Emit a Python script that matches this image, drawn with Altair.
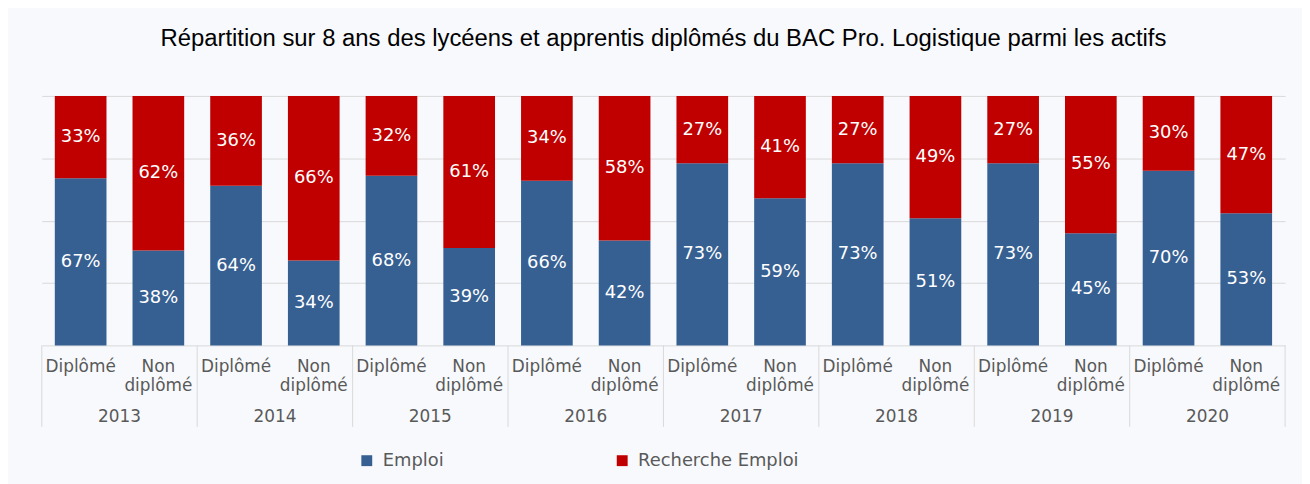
import altair as alt
import pandas as pd

years = ["2013", "2014", "2015", "2016", "2017", "2018", "2019", "2020"]
categories = ["Diplômé", "Non diplômé"]
series = ["Emploi", "Recherche Emploi"]
colors = ["#376092", "#c00000"]

emploi_diplome = [67, 64, 68, 66, 73, 73, 73, 70]
emploi_non_diplome = [38, 34, 39, 42, 59, 51, 45, 53]
recherche_diplome = [33, 36, 32, 34, 27, 27, 27, 30]
recherche_non_diplome = [62, 66, 61, 58, 41, 49, 55, 47]

title_text = "Répartition sur 8 ans des lycéens et apprentis diplômés du BAC Pro. Logistique parmi les actifs"

rows = []
for i, yr in enumerate(years):
    pairs = [
        (categories[0], emploi_diplome[i], recherche_diplome[i]),
        (categories[1], emploi_non_diplome[i], recherche_non_diplome[i]),
    ]
    for cat, e, r in pairs:
        key = f"{yr} {cat}"
        lab = cat.replace(" ", "\n")
        rows.append(dict(key=key, year=yr, cat=cat, label=lab, series=series[0], order=0, value=e))
        rows.append(dict(key=key, year=yr, cat=cat, label=lab, series=series[1], order=1, value=r))
df = pd.DataFrame(rows)
keys = list(dict.fromkeys(df["key"]))

W, H = 1251, 251
FONT = "DejaVu Sans"
GRID = "#d9d9d9"

xscale = alt.Scale(domain=keys, paddingInner=0, paddingOuter=0)
X = alt.X("key:N", sort=keys, scale=xscale, axis=None)

base = alt.Chart(df)

bars = base.mark_bar(width=alt.RelativeBandSize(0.665)).encode(
    x=X,
    y=alt.Y(
        "value:Q",
        stack="zero",
        scale=alt.Scale(domain=[0, 100], nice=False),
        axis=alt.Axis(values=[0, 25, 50, 75, 100], grid=True, gridColor=GRID,
                      labels=False, ticks=False, domain=False, title=None),
    ),
    color=alt.Color(
        "series:N",
        scale=alt.Scale(domain=series, range=colors),
        legend=alt.Legend(
            title=None, orient="none", legendX=318, legendY=358,
            direction="horizontal", columns=2, columnPadding=170,
            symbolType="square", symbolSize=120, symbolStrokeWidth=0,
            labelFont=FONT, labelFontSize=18, labelColor="#595959",
            labelOffset=7, labelLimit=400,
        ),
    ),
    order=alt.Order("order:Q"),
)

values_txt = base.transform_stack(
    stack="value", groupby=["key"], as_=["v0", "v1"], sort=[alt.SortField("order")]
).transform_calculate(
    mid="(datum.v0 + datum.v1) / 2", pct="datum.value + '%'"
).mark_text(color="white", font=FONT, fontSize=18, baseline="middle").encode(
    x=X, y=alt.Y("mid:Q"), text="pct:N"
)

cat_txt = base.transform_filter(alt.datum.order == 0).mark_text(
    font=FONT, fontSize=17, color="#595959", baseline="alphabetic",
    lineBreak="\n", lineHeight=19,
).encode(x=X, y=alt.value(278), text="label:N")

year_txt = base.transform_filter(
    (alt.datum.order == 0) & (alt.datum.cat == categories[1])
).mark_text(font=FONT, fontSize=17, color="#595959", baseline="alphabetic").encode(
    x=alt.X("key:N", sort=keys, scale=xscale, axis=None, bandPosition=0),
    y=alt.value(328), text="year:N",
)

sep_left = base.transform_filter(
    (alt.datum.order == 0) & (alt.datum.cat == categories[0])
).mark_rule(color=GRID, strokeWidth=1).encode(
    x=alt.X("key:N", sort=keys, scale=xscale, axis=None, bandPosition=0),
    y=alt.value(H), y2=alt.value(H + 82),
)

sep_right = base.transform_filter(
    (alt.datum.order == 0) & (alt.datum.key == keys[-1])
).mark_rule(color=GRID, strokeWidth=1).encode(
    x=alt.X("key:N", sort=keys, scale=xscale, axis=None, bandPosition=1),
    y=alt.value(H), y2=alt.value(H + 82),
)

chart = alt.layer(bars, values_txt, cat_txt, year_txt, sep_left, sep_right).properties(
    width=W, height=H,
    title=alt.TitleParams(
        title_text, font="Liberation Sans", fontSize=24, fontWeight="normal",
        color="black", anchor="middle", offset=45,
    ),
    padding={"left": 34, "top": 87, "right": 17, "bottom": 138},
    autosize=alt.AutoSizeParams(type="none"),
    background="#f8f9fd",
).configure_view(stroke=None)

chart.save("out.html", embed_options={"renderer": "svg", "actions": False})
